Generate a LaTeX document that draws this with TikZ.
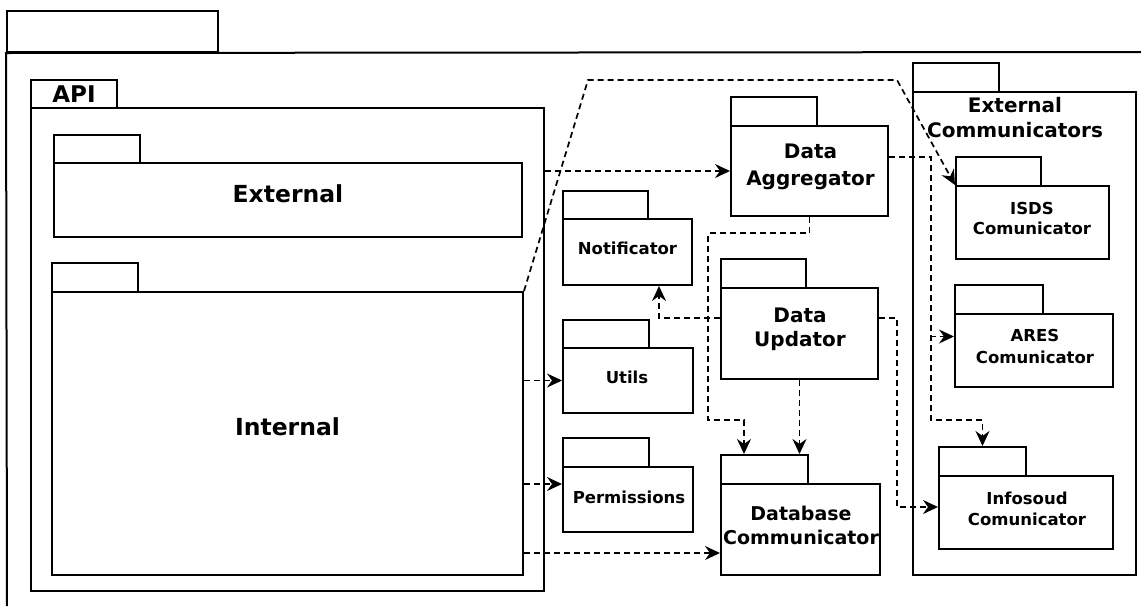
\documentclass[tikz,border=0pt]{standalone}
\usepackage{fontspec}
\setmainfont{DejaVu Sans}
\usetikzlibrary{arrows.meta,fit}

\tikzset{
  pkgline/.style={draw=black, line width=2pt, fill=white, inner sep=0pt},
  tabbox/.style={pkgline},
  pkgbody/.style={pkgline},
  lbl/.style n args={2}{font=\bfseries\fontsize{#1}{#2}\selectfont, align=center, inner sep=0pt},
  dep/.style={draw=black, line width=1.7pt, dash pattern=on 6pt off 4pt,
    -{Stealth[length=15pt,width=14pt,inset=5pt]}},
}

% package: name, left, tab top, tab right, body top, body right, body bottom
\newcommand{\umlpkg}[7]{%
  \node[tabbox, fit={(#2,#3) (#4,#5)}] (#1-tab) {};
  \node[pkgbody, fit={(#2,#5) (#6,#7)}] (#1) {};
}

\begin{document}
\begin{tikzpicture}[x=1pt, y=-1pt]
\useasboundingbox (0,0) rectangle (1141,606);

% enclosing package (runs past the page edges)
\node[tabbox, fit={(7,11) (218,52)}] (outer-tab) {};
\coordinate (outer-ne) at (1141,52);
\coordinate (outer-sw) at (7,606);
\draw[line width=2pt] (outer-ne) -- (outer-tab.south west) -- (outer-sw);

% API
\umlpkg{api}{31}{80}{117}{108}{544}{591}
\node[lbl={23}{28}] (api-lbl) at (74,94) {API};
\umlpkg{ext}{54}{135}{140}{163}{522}{237}
\node[lbl={23.5}{28}] (ext-lbl) at (288,193.4) {External};
\umlpkg{int}{52}{263}{138}{292}{523}{575}
\node[lbl={23.5}{28}] (int-lbl) at (287.5,427) {Internal};

% helpers
\umlpkg{notif}{563}{191}{648}{219}{692}{285}
\node[lbl={16.5}{20}] (notif-lbl) at (627.5,248.5) {Notificator};
\umlpkg{utils}{563}{320}{649}{348}{693}{413}
\node[lbl={16.5}{20}] (utils-lbl) at (627,377) {Utils};
\umlpkg{perm}{563}{438}{649}{467}{693}{532}
\node[lbl={16.5}{20}] (perm-lbl) at (629,497) {Permissions};

% data services
\umlpkg{agg}{731}{97}{817}{126}{888}{216}
\node[lbl={20}{26.5}] (agg-lbl) at (810.5,166.7) {Data\\Aggregator};
\umlpkg{upd}{721}{259}{806}{288}{878}{379}
\node[lbl={20}{24.6}] (upd-lbl) at (800,329.4) {Data\\Updator};
\umlpkg{db}{721}{455}{808}{484}{880}{575}
\node[lbl={19}{24.3}] (db-lbl) at (801,525.5) {Database\\Communicator};

% external communicators
\umlpkg{extc}{913}{63}{999}{92}{1136}{575}
\node[lbl={20}{25.5}] (extc-lbl) at (1015,117.3) {External\\Communicators};
\umlpkg{isds}{956}{157}{1041}{186}{1109}{259}
\node[lbl={16.5}{20}] (isds-lbl) at (1032,218.3) {ISDS\\Comunicator};
\umlpkg{ares}{955}{285}{1043}{314}{1113}{387}
\node[lbl={16.5}{21.5}] (ares-lbl) at (1035,346.5) {ARES\\Comunicator};
\umlpkg{info}{939}{447}{1026}{476}{1113}{549}
\node[lbl={16.5}{21}] (info-lbl) at (1027,508.5) {Infosoud\\Comunicator};

% dependencies
\coordinate (wp1) at (588,80);
\coordinate (wp2) at (897,80);
\draw[dep] (int.north east) -- (wp1) -- (wp2) -- (isds.north west);
\draw[dep] (api.east |- agg.west) -- (agg.west);
\draw[dep] ([yshift=14pt]agg.east) -- ++(42,0) |- ([yshift=14pt]ares.west);
\draw[dep] ([yshift=14pt]agg.east) -- ++(42,0) |- ([yshift=26pt]info-tab.north) -- (info-tab.north);
\draw[dep] (agg.south) -- ++(0,16) -- ++(-101.5,0) |- ([xshift=24pt,yshift=34pt]db-tab.north west) -- ([xshift=24pt]db-tab.north west);
\draw[dep] ([yshift=15.5pt]upd.west) -| ([xshift=31.5pt]notif.south);
\draw[dep] ([yshift=15.5pt]upd.east) -- ++(18,0) |- ([yshift=5.5pt]info.west);
\draw[dep] (upd.south) -- (upd.south |- db-tab.north);
\draw[dep] (int.east |- utils.west) -- (utils.west);
\draw[dep] ([yshift=15.5pt]perm.west -| int.east) -- ([yshift=15.5pt]perm.west);
\draw[dep] ([yshift=-23.5pt]db.west -| int.east) -- ([yshift=-23.5pt]db.west);
\end{tikzpicture}
\end{document}
